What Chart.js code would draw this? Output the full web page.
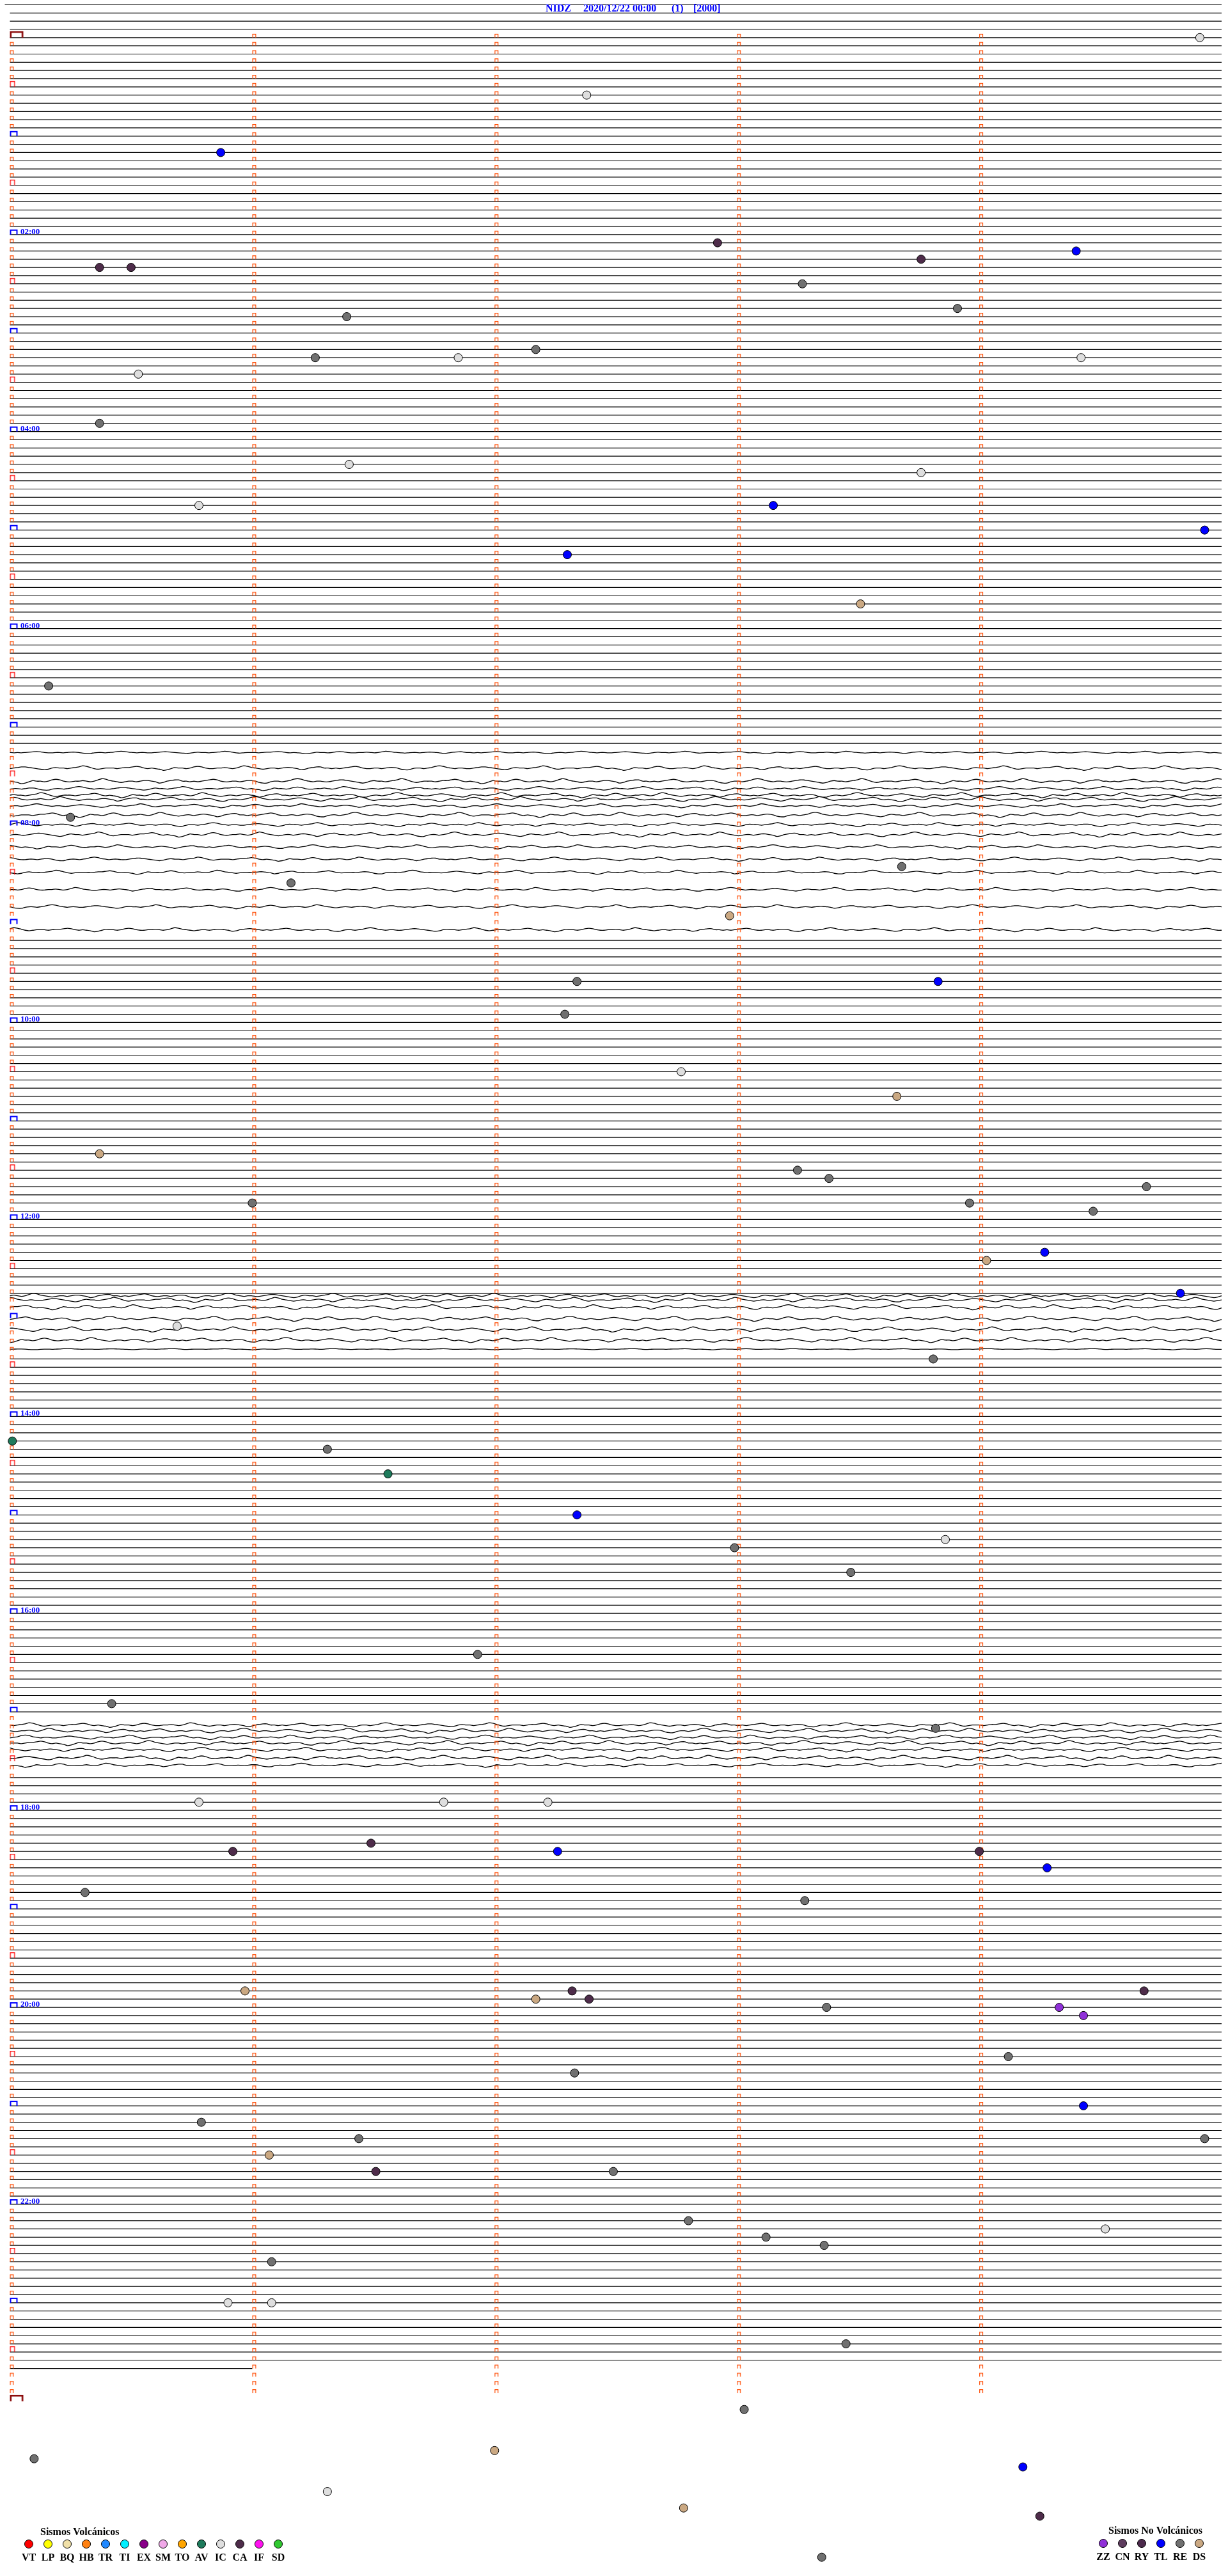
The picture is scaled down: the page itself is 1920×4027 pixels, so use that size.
<!DOCTYPE html>
<html>
<head>
<meta charset="utf-8">
<title>NIDZ 2020/12/22</title>
<script src="https://cdn.jsdelivr.net/npm/chart.js@4.4.0/dist/chart.umd.min.js"></script>
<style>
  html, body { margin: 0; padding: 0; background: #fff; }
  #wrap { width: 1920px; height: 4027px; }
</style>
</head>
<body>
<div id="wrap"><canvas id="heli" width="1920" height="4027"></canvas></div>
<script>
// ---- data -------------------------------------------------------------
const titleParts = ['NIDZ', '2020/12/22 00:00', '(1)', '[2000]'];
const rowMinutes = 5;            // one drum line = 5 minutes
const firstRow = -4;             // blank lines above 00:00
const lastRow = 284;             // last line with signal
const lastRowEnd = 1.0;          // minutes recorded on the last line
const tickRows = 288;            // rows 0..287 carry minute ticks
const hourLabels = ['02:00', '04:00', '06:00', '08:00', '10:00', '12:00',
                    '14:00', '16:00', '18:00', '20:00', '22:00'];

const volcanicCodes  = ['VT', 'LP', 'BQ', 'HB', 'TR', 'TI', 'EX', 'SM', 'TO', 'AV', 'IC', 'CA', 'IF', 'SD'];
const volcanicColors = ['#ff0000', '#ffff00', '#f0e0a8', '#ff8010', '#2088ff', '#00f0ff', '#880088',
                        '#f0a8e8', '#ffa500', '#1e7b5c', '#dedede', '#4e2c4a', '#ff10f0', '#30c830'];
const otherCodes  = ['ZZ', 'CN', 'RY', 'TL', 'RE', 'DS'];
const otherColors = ['#9030d8', '#5e3c5e', '#4c2a4c', '#0000ff', '#707070', '#caa882'];

// event times in minutes since 00:00 and their class
const eventTimes = [4.91, 37.38, 70.87, 127.92, 134.40, 140.37, 140.50, 138.76, 153.27, 168.91,
  171.39, 196.26, 196.85, 192.17, 199.42, 205.53, 235.37, 261.40, 268.76, 285.78,
  288.15, 304.93, 317.30, 348.51, 395.16, 475.25, 508.68, 516.16, 537.97, 577.34,
  578.83, 597.29, 632.77, 648.66, 680.37, 693.25, 698.38, 704.69, 711.00, 713.96,
  719.47, 749.03, 744.27, 769.83, 785.69, 808.81, 855.01, 861.31, 876.56, 902.34,
  918.86, 922.99, 938.47, 986.93, 1015.42, 1033.82, 1075.78, 1076.79, 1077.22, 1101.49,
  1105.92, 1107.26, 1109.00, 1119.28, 1130.31, 1138.28, 1190.97, 1197.17, 1192.32, 1197.39,
  1203.37, 1204.33, 1209.43, 1194.68, 1234.12, 1242.33, 1264.43, 1270.79, 1281.44, 1284.93,
  1291.07, 1301.51, 1302.49, 1332.80, 1343.12, 1348.36, 1339.52, 1356.08, 1380.90, 1381.08,
  1408.45, 1448.03, 1475.10, 1472.00, 1484.18, 1496.31, 1507.78, 1514.25, 1538.35];
const eventTypes = ['IC', 'IC', 'TL', 'CA', 'TL', 'CA', 'CA', 'CA', 'RE', 'RE',
  'RE', 'RE', 'IC', 'RE', 'IC', 'IC', 'RE', 'IC', 'IC', 'IC',
  'TL', 'TL', 'TL', 'DS', 'RE', 'RE', 'RE', 'RE', 'DS', 'RE',
  'TL', 'RE', 'IC', 'DS', 'DS', 'RE', 'RE', 'RE', 'RE', 'RE',
  'RE', 'DS', 'TL', 'TL', 'IC', 'RE', 'AV', 'RE', 'AV', 'TL',
  'IC', 'RE', 'RE', 'RE', 'RE', 'RE', 'IC', 'IC', 'IC', 'CA',
  'CA', 'TL', 'CA', 'TL', 'RE', 'RE', 'DS', 'DS', 'CA', 'CA',
  'RE', 'ZZ', 'ZZ', 'CA', 'RE', 'RE', 'TL', 'RE', 'RE', 'RE',
  'DS', 'CA', 'RE', 'RE', 'RE', 'RE', 'IC', 'RE', 'IC', 'IC',
  'RE', 'RE', 'RE', 'DS', 'TL', 'IC', 'DS', 'CA', 'RE'];

// noisy stretches: rows whose flat line is replaced by a wiggly trace
const noisyFrom = [87, 154, 205];
const noisyTo   = [109, 160, 211];
const traceRows = [87.1, 89.0, 90.6, 91.5, 92.3, 92.8, 93.6, 94.7, 95.9, 97.1, 98.6, 100.1, 101.7, 103.8, 105.9, 108.7,
                   153.3, 153.8, 154.7, 156.1, 157.4, 158.7, 159.8,
                   205.6, 206.3, 207.1, 207.8, 208.6, 209.6, 210.5];
const traceAmps = [0.5, 0.9, 1.0, 0.8, 1.0, 1.0, 0.8, 1.0, 0.8, 1.0, 0.8, 0.8, 0.8, 0.8, 0.8, 0.8,
                   1.0, 1.0, 1.0, 1.0, 1.0, 1.0, 0.25,
                   0.9, 1.0, 0.9, 1.0, 0.9, 1.0, 0.8];
const traceShift = [0, 37, 74, 11, 48, 85, 22, 59, 96, 33, 70, 7, 44, 81, 18, 55,
                    92, 29, 66, 3, 40, 77, 14,
                    51, 88, 25, 62, 99, 36, 73];
// one recorded stretch of ground motion (pixels), reused for all traces
const waveSample = [0, 1, 0, 1, 0, -1, -2, -3, -2, 0, 1, 1, 0, 0, 1, 0, -1, -1, 0, 2, 3, 3, 1, 0, 0, 1, 0, -1,
  -3, -4, -3, -1, 0, 1, 0, 0, 1, 1, 0, -1, -2, -2, -1, 0, 1, 2, 3, 2, 0, -1, 0, 0, 1, 0, -1, -2, -4, -3,
  -1, 1, 2, 1, 0, 0, 0, 1, 0, -1, -1, -2, -3, -2, 0, 1, 0, 1, 2, 4, 3, 1, -1, 0, 0, 1, 0, -2, -3, -2,
  0, 1, 1, 0, 0, -1, 0, 1, 0, -2, -4, -3, -1, 0, 1, 2, 1, 0, 0, 1, 0, -1, -1, 0, 1, 3, 2, 0, -1, -2, -2, 0];

// ---- layout ----------------------------------------------------------
const rowPx = 12.836;
const xLeft = 10, xRight = 1910;
const pxPerMin = (xRight - xLeft) / rowMinutes;
const yTop = 57 + firstRow * rowPx;
const yMaxRow = 308;
const yBottom = 57 + yMaxRow * rowPx;

const allCodes = volcanicCodes.concat(otherCodes);
const allColors = volcanicColors.concat(otherColors);
const colorOf = code => allColors[allCodes.indexOf(code)];

function isNoisy(r) {
  for (let i = 0; i < noisyFrom.length; i++) {
    if (r >= noisyFrom[i] && r <= noisyTo[i]) return true;
  }
  return false;
}

// flat drum lines
const rowLineData = [];
for (let r = firstRow; r <= lastRow; r++) {
  if (isNoisy(r)) continue;
  const x0 = r === firstRow ? -8 / pxPerMin : 0;
  const x1 = r === lastRow ? lastRowEnd : rowMinutes;
  rowLineData.push({ x: x0, y: r }, { x: x1, y: r }, { x: x1, y: null });
}

// wiggly traces
const traceData = [];
const nSamples = 317;
traceRows.forEach((row, i) => {
  for (let k = 0; k < nSamples; k++) {
    const v = waveSample[(k + traceShift[i]) % waveSample.length];
    traceData.push({ x: k * rowMinutes / (nSamples - 1), y: row + v * traceAmps[i] / rowPx });
  }
  traceData.push({ x: rowMinutes, y: null });
});

// tick glyphs
function tickImage(w, h, color, lw) {
  const c = document.createElement('canvas');
  c.width = 2 * w + 4;
  c.height = 2 * h + 4;
  const g = c.getContext('2d');
  const cx = c.width / 2, cy = c.height / 2;
  const o = lw / 2;
  g.strokeStyle = color;
  g.lineWidth = lw;
  g.beginPath();
  g.moveTo(cx + o, cy);
  g.lineTo(cx + o, cy - h + o);
  g.lineTo(cx + w - o, cy - h + o);
  g.lineTo(cx + w - o, cy);
  g.stroke();
  return c;
}
const minuteTick = tickImage(6, 6, '#ff4a00', 1.2);
const hourTick = tickImage(12, 8, '#0000ff', 2);
const halfTick = tickImage(8, 9, '#ff0000', 1.3);
const dayTick = tickImage(21, 10, '#8b0a0a', 2.6);

const tickData = [], tickStyles = [];
for (let r = 0; r < tickRows; r++) {
  for (let m = 0; m < rowMinutes; m++) {
    tickData.push({ x: m, y: r });
    let st = minuteTick;
    if (m === 0) {
      if (r === 0) st = dayTick;
      else if (r % 12 === 0) st = hourTick;
      else if (r % 12 === 6) st = halfTick;
    }
    tickStyles.push(st);
  }
}
tickData.push({ x: 0, y: tickRows });
tickStyles.push(dayTick);

const eventData = eventTimes.map(t => {
  const row = Math.floor(t / rowMinutes);
  return { x: t - row * rowMinutes, y: row };
});

// ---- text / legend ---------------------------------------------------
const decor = {
  id: 'decor',
  afterDatasetsDraw(chart) {
    const ctx = chart.ctx;
    const ys = chart.scales.y;
    ctx.save();
    ctx.fillStyle = '#0000ff';
    ctx.font = 'bold 16px "Liberation Serif", "Times New Roman", serif';
    ctx.textBaseline = 'alphabetic';
    const titleX = [853, 912, 1050, 1084];
    titleParts.forEach((s, i) => ctx.fillText(s, titleX[i], 18));

    ctx.font = 'bold 13px "Liberation Serif", "Times New Roman", serif';
    hourLabels.forEach((s, i) => {
      const y = ys.getPixelForValue((i + 1) * 24);
      ctx.fillText(s, 32, y - 1);
    });

    ctx.fillStyle = '#000';
    ctx.font = 'bold 16px "Liberation Serif", "Times New Roman", serif';
    ctx.fillText('Sismos Volcánicos', 63, 3963);
    ctx.fillText('Sismos No Volcánicos', 1733, 3961);

    const dot = (x, y, col) => {
      ctx.beginPath();
      ctx.arc(x, y, 6.5, 0, Math.PI * 2);
      ctx.fillStyle = col;
      ctx.fill();
      ctx.lineWidth = 1;
      ctx.strokeStyle = '#000';
      ctx.stroke();
    };
    ctx.textAlign = 'center';
    volcanicCodes.forEach((c, i) => {
      const x = 45 + i * 30;
      dot(x, 3977, volcanicColors[i]);
      ctx.fillStyle = '#000';
      ctx.fillText(c, x, 4003);
    });
    otherCodes.forEach((c, i) => {
      const x = 1725 + i * 30;
      dot(x, 3976, otherColors[i]);
      ctx.fillStyle = '#000';
      ctx.fillText(c, x, 4002);
    });
    ctx.restore();
  }
};

new Chart(document.getElementById('heli'), {
  type: 'line',
  data: {
    datasets: [
      {
        type: 'scatter',
        data: eventData,
        order: 0,
        pointRadius: 6.5,
        pointBorderWidth: 1,
        pointBorderColor: '#000',
        pointBackgroundColor: eventTypes.map(colorOf),
        clip: false
      },
      {
        type: 'scatter',
        data: tickData,
        order: 1,
        pointStyle: tickStyles,
        pointRadius: 6,
        clip: false
      },
      {
        data: traceData,
        order: 2,
        borderColor: '#000',
        borderWidth: 1.3,
        pointRadius: 0,
        tension: 0.2,
        spanGaps: false,
        clip: false
      },
      {
        data: rowLineData,
        order: 3,
        borderColor: '#000',
        borderWidth: 1.2,
        pointRadius: 0,
        spanGaps: false,
        clip: false
      }
    ]
  },
  options: {
    responsive: false,
    animation: false,
    devicePixelRatio: 1,
    events: [],
    layout: {
      padding: { left: xLeft - 8, right: 1920 - xRight, top: yTop, bottom: 4027 - yBottom }
    },
    scales: {
      x: { type: 'linear', min: -8 / pxPerMin, max: rowMinutes, display: false },
      y: { type: 'linear', min: firstRow, max: yMaxRow, reverse: true, display: false }
    },
    plugins: { legend: { display: false }, tooltip: { enabled: false } }
  },
  plugins: [decor]
});
</script>
</body>
</html>
